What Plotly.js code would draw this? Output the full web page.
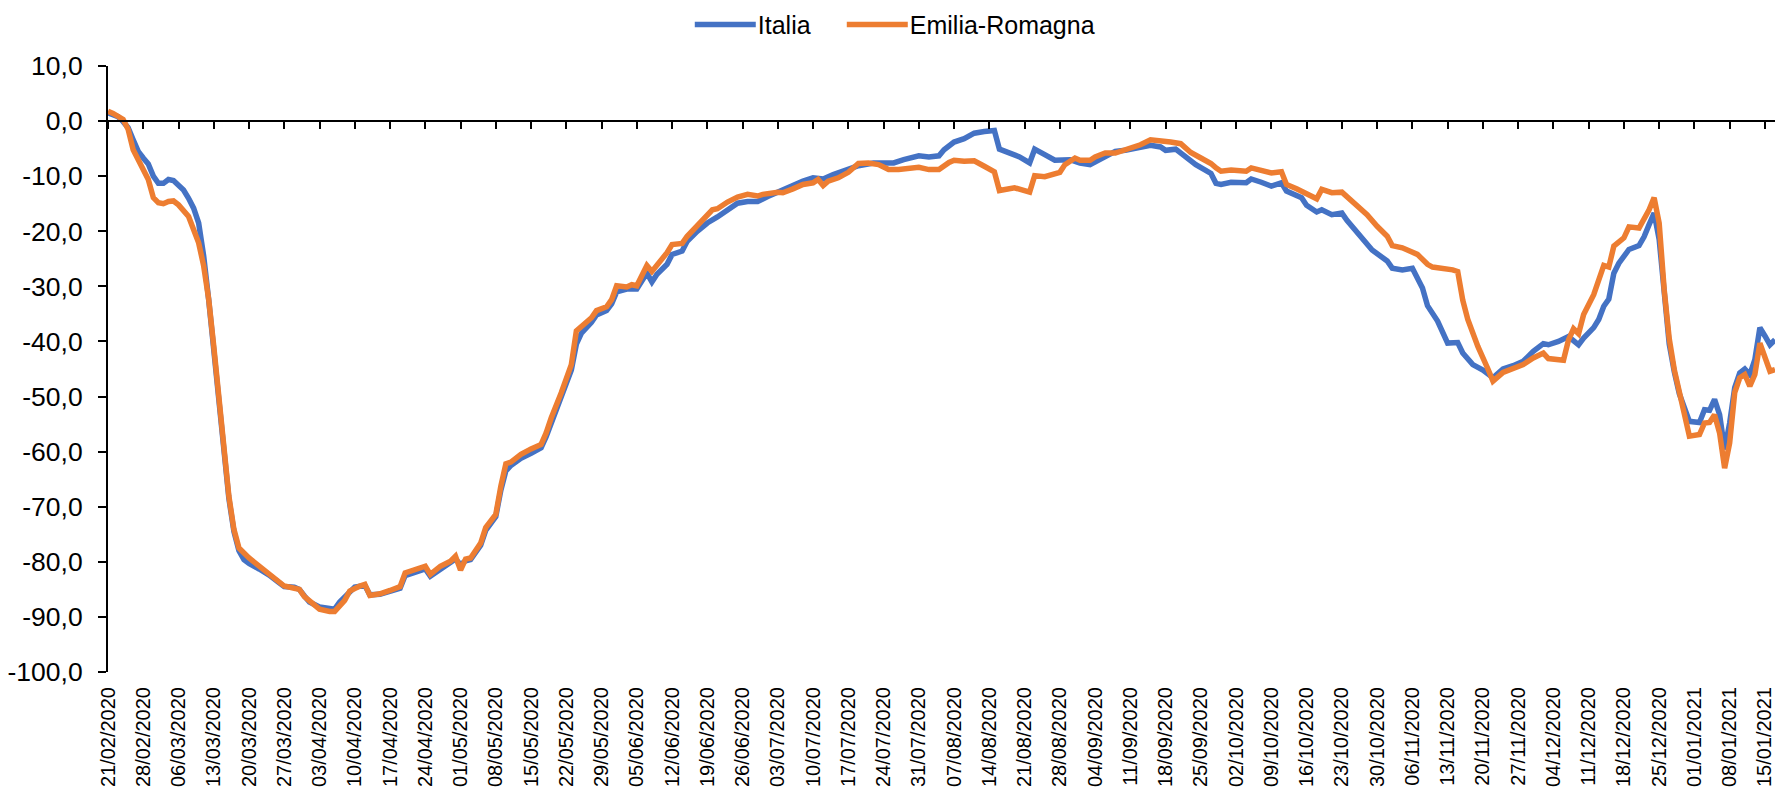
<!DOCTYPE html>
<html>
<head>
<meta charset="utf-8">
<script src="https://cdn.plot.ly/plotly-3.0.1.min.js"></script>
<style>
html,body{margin:0;padding:0;background:#fff;}
#chart{width:1775px;height:789px;}
</style>
</head>
<body>
<div id="chart"></div>
<script>
const seriesNames = ['Italia', 'Emilia-Romagna'];

const italiaDates = ['2020-02-21','2020-02-23','2020-02-24','2020-02-25','2020-02-26','2020-02-27','2020-02-28','2020-02-29',
'2020-03-01','2020-03-02','2020-03-03','2020-03-04','2020-03-05','2020-03-06','2020-03-07','2020-03-08','2020-03-09','2020-03-10',
'2020-03-11','2020-03-12','2020-03-13','2020-03-14','2020-03-15','2020-03-16','2020-03-17','2020-03-18','2020-03-19','2020-03-20',
'2020-03-22','2020-03-24','2020-03-26','2020-03-27','2020-03-29','2020-03-30','2020-03-31',
'2020-04-01','2020-04-03','2020-04-05','2020-04-06','2020-04-07','2020-04-09','2020-04-10','2020-04-12','2020-04-13','2020-04-15',
'2020-04-17','2020-04-19','2020-04-20','2020-04-22','2020-04-24','2020-04-25','2020-04-27','2020-04-29','2020-04-30',
'2020-05-01','2020-05-02','2020-05-03','2020-05-05','2020-05-06','2020-05-08','2020-05-09','2020-05-10','2020-05-11','2020-05-13',
'2020-05-15','2020-05-17','2020-05-18','2020-05-19','2020-05-21','2020-05-23','2020-05-24','2020-05-25','2020-05-27','2020-05-28',
'2020-05-30','2020-05-31',
'2020-06-01','2020-06-03','2020-06-05','2020-06-06','2020-06-07','2020-06-08','2020-06-09','2020-06-11','2020-06-12','2020-06-14',
'2020-06-15','2020-06-17','2020-06-19','2020-06-21','2020-06-23','2020-06-25','2020-06-27','2020-06-29',
'2020-07-01','2020-07-03','2020-07-05','2020-07-08','2020-07-10','2020-07-12','2020-07-14','2020-07-17','2020-07-19','2020-07-22',
'2020-07-25','2020-07-26','2020-07-28','2020-07-30','2020-07-31',
'2020-08-02','2020-08-04','2020-08-05','2020-08-07','2020-08-09','2020-08-11','2020-08-13','2020-08-15','2020-08-16','2020-08-18',
'2020-08-20','2020-08-22','2020-08-23','2020-08-25','2020-08-27','2020-08-30',
'2020-09-01','2020-09-03','2020-09-06','2020-09-08','2020-09-10','2020-09-13','2020-09-15','2020-09-17','2020-09-18','2020-09-20',
'2020-09-22','2020-09-24','2020-09-27','2020-09-28','2020-09-29',
'2020-10-01','2020-10-04','2020-10-05','2020-10-07','2020-10-09','2020-10-11','2020-10-12','2020-10-15','2020-10-16','2020-10-18',
'2020-10-19','2020-10-21','2020-10-23','2020-10-24','2020-10-27','2020-10-29',
'2020-11-01','2020-11-02','2020-11-04','2020-11-06','2020-11-08','2020-11-09','2020-11-11','2020-11-13','2020-11-15','2020-11-16',
'2020-11-18','2020-11-20','2020-11-22','2020-11-24','2020-11-26','2020-11-28','2020-11-30',
'2020-12-02','2020-12-03','2020-12-05','2020-12-07','2020-12-09','2020-12-10','2020-12-12','2020-12-13','2020-12-14','2020-12-15',
'2020-12-16','2020-12-17','2020-12-19','2020-12-21','2020-12-22','2020-12-23','2020-12-24','2020-12-25','2020-12-26','2020-12-27',
'2020-12-28','2020-12-29','2020-12-31',
'2021-01-02','2021-01-03','2021-01-04','2021-01-05','2021-01-06','2021-01-07','2021-01-08','2021-01-09','2021-01-10','2021-01-11',
'2021-01-12','2021-01-13','2021-01-14','2021-01-15','2021-01-16','2021-01-17'];

const italiaValues = [1.5,0.8,-0.1,-1.2,-3.4,-5.5,-6.7,-7.8,
-10.0,-11.3,-11.3,-10.6,-10.8,-11.6,-12.5,-14.0,-15.8,-18.5,
-24.5,-32.5,-41.5,-51.0,-60.5,-68.5,-74.5,-78.0,-79.6,-80.3,
-81.3,-82.4,-83.8,-84.5,-84.6,-85.0,-86.2,
-87.3,-88.2,-88.5,-88.6,-87.3,-85.4,-84.6,-84.3,-86.0,-85.9,
-85.4,-84.8,-82.5,-81.8,-81.3,-82.6,-81.3,-80.2,-79.5,
-80.5,-79.8,-79.6,-77.0,-74.3,-71.8,-67.0,-63.5,-62.5,-61.2,
-60.3,-59.3,-57.3,-54.8,-50.5,-45.2,-40.5,-38.5,-36.5,-35.2,
-34.4,-33.2,
-31.0,-30.5,-30.5,-28.8,-27.6,-29.2,-27.8,-26.0,-24.2,-23.6,
-21.8,-20.0,-18.5,-17.4,-16.0,-14.9,-14.6,-14.6,
-13.7,-12.9,-11.9,-10.9,-10.3,-10.5,-9.7,-8.7,-8.1,-7.6,
-7.7,-7.6,-7.0,-6.7,-6.3,
-6.5,-6.3,-5.2,-3.8,-3.2,-2.2,-1.9,-1.7,-5.1,-5.7,
-6.5,-7.6,-5.1,-6.1,-7.1,-7.0,
-7.6,-7.9,-6.3,-5.5,-5.3,-4.9,-4.4,-4.7,-5.3,-5.1,
-6.5,-7.9,-9.5,-11.3,-11.5,
-11.1,-11.2,-10.5,-11.1,-11.8,-11.2,-12.7,-13.9,-15.3,-16.5,
-16.1,-17.0,-16.7,-18.0,-21.2,-23.4,
-25.4,-26.7,-27.0,-26.7,-30.3,-33.5,-36.3,-40.3,-40.2,-42.1,
-44.2,-45.2,-46.6,-45.0,-44.4,-43.6,-41.8,
-40.4,-40.6,-40.0,-39.1,-40.6,-39.4,-37.5,-36.0,-33.6,-32.3,
-27.6,-25.8,-23.3,-22.6,-21.0,-18.8,-16.7,-21.5,-30.0,-40.5,
-45.5,-49.5,-54.5,
-54.7,-52.4,-52.5,-50.5,-53.3,-59.6,-54.8,-48.4,-45.7,-45.0,
-46.0,-43.3,-37.5,-39.0,-40.6,-39.7];

const emiliaDates = ['2020-02-21','2020-02-22','2020-02-24','2020-02-25','2020-02-26','2020-02-27','2020-02-28','2020-02-29',
'2020-03-01','2020-03-02','2020-03-03','2020-03-04','2020-03-05','2020-03-06','2020-03-08','2020-03-09','2020-03-10',
'2020-03-11','2020-03-12','2020-03-13','2020-03-14','2020-03-15','2020-03-16','2020-03-17','2020-03-18','2020-03-20',
'2020-03-21','2020-03-23','2020-03-25','2020-03-27','2020-03-29','2020-03-30','2020-03-31',
'2020-04-02','2020-04-03','2020-04-05','2020-04-06','2020-04-08','2020-04-09','2020-04-11','2020-04-12','2020-04-13','2020-04-15',
'2020-04-17','2020-04-19','2020-04-20','2020-04-22','2020-04-24','2020-04-25','2020-04-27','2020-04-29','2020-04-30',
'2020-05-01','2020-05-02','2020-05-03','2020-05-05','2020-05-06','2020-05-08','2020-05-09','2020-05-10','2020-05-11','2020-05-13',
'2020-05-15','2020-05-17','2020-05-18','2020-05-19','2020-05-21','2020-05-23','2020-05-24','2020-05-25','2020-05-27','2020-05-28',
'2020-05-30','2020-05-31',
'2020-06-01','2020-06-03','2020-06-04','2020-06-05','2020-06-06','2020-06-07','2020-06-08','2020-06-10','2020-06-11','2020-06-12',
'2020-06-14','2020-06-15','2020-06-17','2020-06-19','2020-06-20','2020-06-21','2020-06-23','2020-06-25','2020-06-27','2020-06-29',
'2020-06-30',
'2020-07-03','2020-07-04','2020-07-06','2020-07-08','2020-07-10','2020-07-11','2020-07-12','2020-07-13','2020-07-15','2020-07-17',
'2020-07-19','2020-07-21','2020-07-23','2020-07-25','2020-07-27','2020-07-29','2020-07-31',
'2020-08-02','2020-08-04','2020-08-06','2020-08-07','2020-08-09','2020-08-11','2020-08-13','2020-08-15','2020-08-16','2020-08-18',
'2020-08-19','2020-08-22','2020-08-23','2020-08-25','2020-08-28','2020-08-29','2020-08-31',
'2020-09-01','2020-09-03','2020-09-04','2020-09-06','2020-09-08','2020-09-10','2020-09-13','2020-09-15','2020-09-17','2020-09-19',
'2020-09-21','2020-09-23','2020-09-25','2020-09-27','2020-09-28','2020-09-29',
'2020-10-01','2020-10-04','2020-10-05','2020-10-07','2020-10-09','2020-10-11','2020-10-12','2020-10-14','2020-10-16','2020-10-18',
'2020-10-19','2020-10-21','2020-10-23','2020-10-25','2020-10-28','2020-10-30',
'2020-11-01','2020-11-02','2020-11-04','2020-11-07','2020-11-09','2020-11-10','2020-11-13','2020-11-14','2020-11-15','2020-11-16',
'2020-11-17','2020-11-19','2020-11-21','2020-11-22','2020-11-24','2020-11-26','2020-11-28','2020-11-30',
'2020-12-02','2020-12-03','2020-12-06','2020-12-07','2020-12-08','2020-12-09','2020-12-10','2020-12-12','2020-12-13','2020-12-14',
'2020-12-15','2020-12-16','2020-12-18','2020-12-19','2020-12-21','2020-12-22','2020-12-23','2020-12-24','2020-12-25','2020-12-26',
'2020-12-27','2020-12-28','2020-12-30','2020-12-31',
'2021-01-02','2021-01-03','2021-01-04','2021-01-05','2021-01-06','2021-01-07','2021-01-08','2021-01-09','2021-01-10','2021-01-11',
'2021-01-12','2021-01-13','2021-01-14','2021-01-15','2021-01-16','2021-01-17'];

const emiliaValues = [1.8,1.4,0.3,-1.5,-5.2,-7.0,-8.7,-10.6,
-13.9,-14.8,-15.0,-14.6,-14.5,-15.2,-17.3,-19.6,-22.1,
-26.3,-32.4,-40.9,-50.5,-60.2,-68.1,-74.1,-77.5,-79.3,
-80.0,-81.5,-82.9,-84.4,-84.8,-85.0,-86.3,
-87.9,-88.6,-89.0,-89.0,-87.0,-85.3,-84.4,-84.1,-86.1,-85.8,
-85.2,-84.5,-82.0,-81.5,-80.8,-82.3,-80.8,-79.9,-79.0,
-81.5,-79.5,-79.3,-76.6,-73.8,-71.4,-66.3,-62.2,-61.9,-60.5,
-59.5,-58.7,-56.6,-53.9,-49.3,-44.2,-38.1,-37.2,-35.7,-34.4,
-33.7,-32.4,
-29.9,-30.1,-29.7,-29.9,-27.9,-26.2,-27.3,-25.1,-23.9,-22.4,
-22.2,-20.9,-19.0,-17.3,-16.1,-15.9,-14.7,-13.8,-13.3,-13.6,
-13.3,
-12.9,-13.0,-12.3,-11.5,-11.2,-10.6,-11.7,-10.9,-10.3,-9.3,
-7.7,-7.6,-7.9,-8.8,-8.8,-8.6,-8.4,
-8.8,-8.8,-7.5,-7.1,-7.3,-7.2,-8.2,-9.2,-12.6,-12.4,
-12.1,-12.9,-9.9,-10.1,-9.3,-7.9,-6.7,
-7.1,-7.1,-6.5,-5.8,-5.8,-5.2,-4.3,-3.4,-3.5,-3.8,
-4.1,-5.7,-6.7,-7.7,-8.5,-9.1,
-8.9,-9.1,-8.5,-8.9,-9.4,-9.2,-11.5,-12.3,-13.3,-14.1,
-12.4,-13.0,-12.9,-14.5,-17.0,-19.1,
-20.9,-22.6,-23.0,-24.2,-26.0,-26.5,-26.7,-27.0,-27.3,-32.5,
-36.0,-40.9,-45.0,-47.2,-45.6,-45.0,-44.2,-43.0,
-42.1,-43.1,-43.4,-39.7,-37.7,-38.6,-35.1,-31.5,-28.8,-26.2,
-26.5,-22.7,-21.2,-19.2,-19.4,-17.9,-16.1,-13.9,-18.5,-30.6,
-39.5,-45.1,-52.5,-57.2,
-56.9,-54.8,-54.7,-53.3,-56.6,-63.0,-58.4,-49.3,-46.6,-46.0,
-48.1,-46.0,-40.3,-43.0,-45.4,-45.1];

const yTickValues = [10, 0, -10, -20, -30, -40, -50, -60, -70, -80, -90, -100];
const yTickLabels = ['10,0', '0,0', '-10,0', '-20,0', '-30,0', '-40,0', '-50,0', '-60,0', '-70,0', '-80,0', '-90,0', '-100,0'];

const xStart = '2020-02-21';
const xEnd = '2021-01-17';
const weekMs = 7 * 24 * 3600 * 1000;
const yMin = -100, yMax = 10;

const FONT = 'Liberation Sans, Arial, sans-serif';

const traces = [
  {x: italiaDates, y: italiaValues, name: seriesNames[0], type: 'scatter', mode: 'lines',
   line: {color: '#4472C4', width: 5.5}, xaxis: 'x', yaxis: 'y'},
  {x: emiliaDates, y: emiliaValues, name: seriesNames[1], type: 'scatter', mode: 'lines',
   line: {color: '#ED7D31', width: 5.5}, xaxis: 'x', yaxis: 'y'},
  {x: [xStart], y: [null], type: 'scatter', mode: 'lines', showlegend: false, hoverinfo: 'skip', xaxis: 'x2', yaxis: 'y'}
];

const layout = {
  width: 1775, height: 789,
  margin: {l: 108, r: 0, t: 66, b: 117},
  paper_bgcolor: '#fff', plot_bgcolor: '#fff',
  font: {family: FONT, color: '#000'},
  showlegend: true,
  legend: {orientation: 'h', x: 0.349, xanchor: 'left', y: 1.068, yanchor: 'middle',
           font: {family: FONT, size: 25, color: '#000'}, bgcolor: 'rgba(0,0,0,0)', tracegroupgap: 0},
  xaxis: {
    type: 'date', range: [xStart, xEnd], tick0: xStart, dtick: weekMs,
    tickformat: '%d/%m/%Y', tickangle: -90, ticks: '', showline: false, showgrid: false, zeroline: false,
    tickfont: {family: FONT, size: 20, color: '#000'}, ticklabelstandoff: 10, ticklabeloverflow: 'allow',
    automargin: false
  },
  xaxis2: {
    type: 'date', range: [xStart, xEnd], tick0: xStart, dtick: weekMs, overlaying: 'x',
    anchor: 'free', position: (0 - yMin) / (yMax - yMin), side: 'bottom',
    showline: true, linecolor: '#000', linewidth: 2, ticks: 'outside', ticklen: 7, tickwidth: 2, tickcolor: '#000',
    showticklabels: false, showgrid: false, zeroline: false
  },
  yaxis: {
    range: [yMin, yMax], tickvals: yTickValues, ticktext: yTickLabels,
    ticks: 'outside', ticklen: 8, tickwidth: 2, tickcolor: '#000',
    showline: true, linecolor: '#000', linewidth: 2, showgrid: false, zeroline: false,
    tickfont: {family: FONT, size: 26.5, color: '#000'}, ticklabelstandoff: 10, automargin: false
  }
};

const gd = document.getElementById('chart');
Plotly.newPlot(gd, traces, layout, {displayModeBar: false, responsive: false}).then(function () {
  // Longer legend line samples and spacing, as in the reference legend
  const items = gd.querySelectorAll('.legend .traces');
  let baseX = null, baseY = 0;
  items.forEach(function (g, i) {
    const m = /translate\(([-\d.]+)[ ,]*([-\d.]+)?\)/.exec(g.getAttribute('transform') || '');
    if (m && baseX === null) { baseX = parseFloat(m[1]); baseY = parseFloat(m[2] || 0); }
    g.querySelectorAll('.legendlines path').forEach(function (p) { p.setAttribute('d', 'M5,0h61'); });
    const t = g.querySelector('text.legendtext');
    if (t) t.setAttribute('x', 68);
    g.setAttribute('transform', 'translate(' + (baseX + i * 152) + ',' + baseY + ')');
  });
  gd.querySelectorAll('.legend [clip-path]').forEach(function (e) { e.removeAttribute('clip-path'); });
});
</script>
</body>
</html>
